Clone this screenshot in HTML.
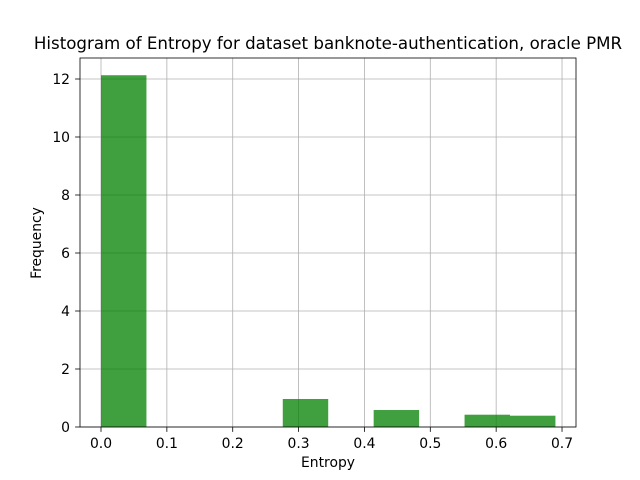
<!DOCTYPE html>
<html><head><meta charset="utf-8"><style>body{margin:0;background:#fff}svg{display:block;font-family:"DejaVu Sans","Liberation Sans",sans-serif}</style></head>
<body>
<svg id="c" width="640" height="480"></svg>
<script>
const binStarts=[0,0.069,0.138,0.207,0.276,0.345,0.414,0.483,0.552,0.621];
const binWidth=0.069;
const freqs=[12.13,0,0,0,0.966,0,0.586,0,0.424,0.39];
const xTicks=[0,0.1,0.2,0.3,0.4,0.5,0.6,0.7];
const yTicks=[0,2,4,6,8,10,12];
const L=80,R=576,T=58,B=427;
const sx=v=>101+v*658.6;
const sy=v=>427-v*29;
const svg=document.getElementById('c');
const NS='http://www.w3.org/2000/svg';
function mk(t,a,p){const e=document.createElementNS(NS,t);for(const k in a)e.setAttribute(k,a[k]);(p||svg).appendChild(e);return e;}
const bg=mk('rect',{x:L,y:T,width:R-L,height:B-T,fill:'#fff'});


xTicks.forEach(t=>{const x=sx(t);
 const g=mk('line',{x1:x,x2:x,y1:T,y2:B,stroke:'#b0b0b0','stroke-width':0.8});
 
 
 mk('line',{x1:x,x2:x,y1:B,y2:B+4.9,stroke:'#000','stroke-width':0.8});
 const tx=mk('text',{x:x,y:B+21,'text-anchor':'middle','font-size':13.9});tx.textContent=t.toFixed(1);
 
 
});
yTicks.forEach(t=>{const y=sy(t);
 const g=mk('line',{x1:L,x2:R,y1:y,y2:y,stroke:'#b0b0b0','stroke-width':0.8});
 
 
 mk('line',{x1:L-4.9,x2:L,y1:y,y2:y,stroke:'#000','stroke-width':0.8});
 const tx=mk('text',{x:L-10,y:y+5,'text-anchor':'end','font-size':13.9});tx.textContent=t;
 
 
});
freqs.forEach((f,i)=>{if(f<=0)return;
 const x0=sx(binStarts[i]),x1=sx(binStarts[i]+binWidth);
 const r=mk('rect',{x:x0,y:sy(f),width:x1-x0,height:B-sy(f),fill:'#008000','fill-opacity':0.75});
 
 
});
const fr=mk('rect',{x:L,y:T,width:R-L,height:B-T,fill:'none',stroke:'#000','stroke-width':0.8});


let t=mk('text',{x:328,y:49,'text-anchor':'middle','font-size':16.67});t.textContent='Histogram of Entropy for dataset banknote-authentication, oracle PMR';


t=mk('text',{x:328,y:467,'text-anchor':'middle','font-size':13.9});t.textContent='Entropy';


t=mk('text',{x:41,y:243,'text-anchor':'middle','font-size':13.9,transform:'rotate(-90 41 243)'});t.textContent='Frequency';


</script>
</body></html>
